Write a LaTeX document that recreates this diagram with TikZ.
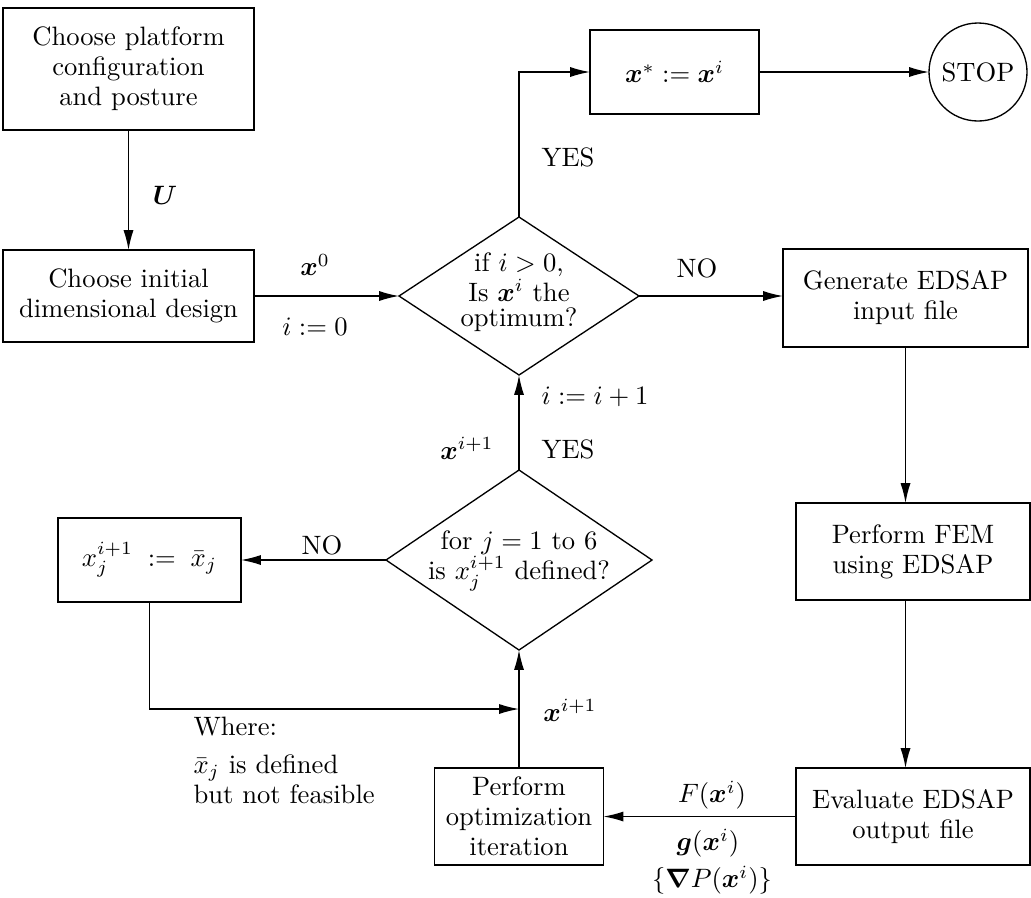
\documentclass[tikz,border=0pt]{standalone}
\usepackage{bm}
\usetikzlibrary{shapes.geometric,arrows.meta}
\begin{document}
\begin{tikzpicture}[x=0.376pt,y=-0.376pt,
  every node/.style={font=\fontsize{10pt}{11.3pt}\selectfont},
  box/.style={draw, rectangle, align=center, inner sep=0pt, outer sep=0pt, line width=0.5pt},
  dia/.style={draw, diamond, inner sep=0pt, outer sep=0pt, line width=0.5pt},
  endc/.style={draw, circle, inner sep=0pt, outer sep=0pt, line width=0.5pt, minimum size=36.85pt},
  arr/.style={line width=0.5pt, -{Latex[length=7.5pt,width=3.8pt]}},
  lab/.style={inner sep=0pt}]
\useasboundingbox (0,0) rectangle (1031,897);

% boxes
\node[box, minimum width=94.38pt, minimum height=45.87pt] (b1) at (128.5,69)
  {Choose platform\\ configuration\\ and posture};
\node[box, minimum width=94.38pt, minimum height=34.59pt] (b2) at (128.5,296)
  {Choose initial\\ dimensional design};
\node[dia, minimum width=90.24pt, minimum height=59.41pt] (d1) at (519,296) {};
\node[lab, align=center, font=\fontsize{10pt}{9.4pt}\selectfont] (d1t) at (519,292)
  {if $i>0$,\\ Is $\bm{x}^i$ the\\ optimum?};
\node[box, minimum width=63.54pt, minimum height=31.58pt] (xs) at (674.5,72)
  {$\bm{x}^* := \bm{x}^i$};
\node[endc] (stop) at (978,72) {STOP};
\node[box, minimum width=92.12pt, minimum height=36.85pt] (gen) at (905.5,298)
  {Generate EDSAP\\ input file};
\node[box, minimum width=87.98pt, minimum height=36.47pt] (fem) at (913,551.5)
  {Perform FEM\\ using EDSAP};
\node[box, minimum width=87.98pt, minimum height=36.47pt] (ev) at (913,816.5)
  {Evaluate EDSAP\\ output file};
\node[box, minimum width=63.54pt, minimum height=36.47pt] (opt) at (519,816.5)
  {Perform\\ optimization\\ iteration};
\node[dia, minimum width=100.02pt, minimum height=67.68pt] (d2) at (519,560) {};
\node[lab, align=center] (d2t) at (519,561)
  {for $j=1$ to 6\\ is $x_j^{i+1}$ defined?};
\node[box, minimum width=68.81pt, minimum height=31.58pt] (xj) at (149.5,560)
  {$x_j^{i+1} \;:=\; \bar{x}_j$};

\coordinate (jn) at (519,709);

% connectors
\draw[arr] (b1.south) -- (b2.north);
\draw[arr] (b2.east) -- (d1.west);
\draw[arr] (d1.north) |- (xs.west);
\draw[arr] (xs.east) -- (stop.west);
\draw[arr] (d1.east) -- (d1.east -| gen.west);
\draw[arr] (gen.south) -- (gen.south |- fem.north);
\draw[arr] (fem.south -| gen.south) -- (ev.north -| gen.south);
\draw[arr] (ev.west) -- (opt.east);
\draw[arr] (opt.north) -- (d2.south);
\draw[arr] (xj.south) |- (jn);
\draw[arr] (d2.west) -- (xj.east);
\draw[arr] (d2.north) -- (d1.south);

% labels
\node[lab] (U) at (165,195) {$\bm{U}$};
\node[lab] (x0) at (315,265) {$\bm{x}^0$};
\node[lab] (i0) at (315,327) {$i:=0$};
\node[lab] (yes1) at (568,157) {YES};
\node[lab] (no1) at (697,268) {NO};
\node[lab] (inc) at (595,397) {$i:=i+1$};
\node[lab] (yes2) at (568,449) {YES};
\node[lab] (xn1) at (467,448) {$\bm{x}^{i+1}$};
\node[lab] (no2) at (322,545) {NO};
\node[lab] (xn2) at (570,710) {$\bm{x}^{i+1}$};
\node[lab, anchor=north west, align=left] (where) at (193,716)
  {Where:\\[3pt] $\bar{x}_j$ is defined\\ but not feasible};
\node[lab] (F) at (712,795) {$F(\bm{x}^i)$};
\node[lab] (g) at (708,843) {$\bm{g}(\bm{x}^i)$};
\node[lab] (P) at (712,880) {$\{\bm{\nabla} P(\bm{x}^i)\}$};
\end{tikzpicture}
\end{document}
